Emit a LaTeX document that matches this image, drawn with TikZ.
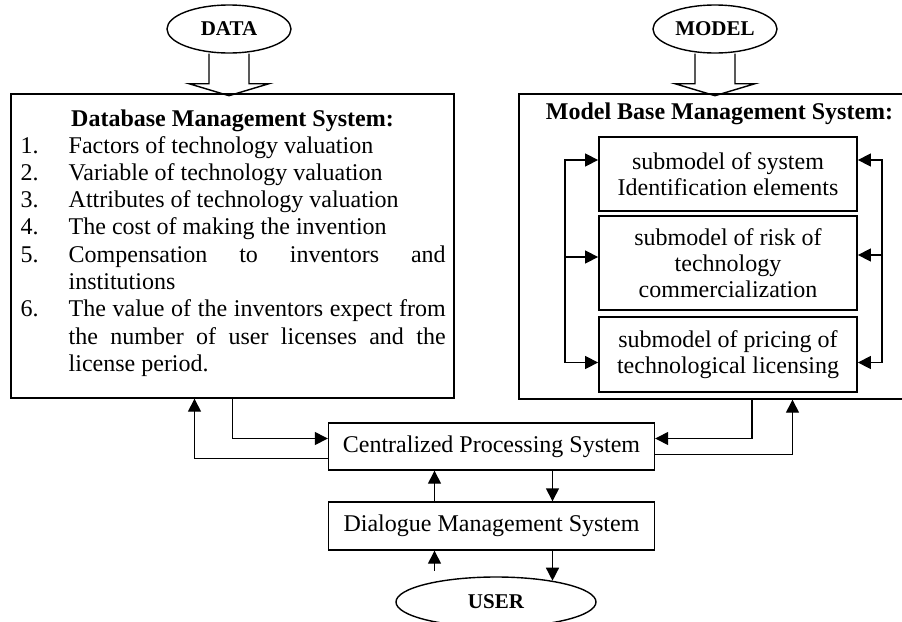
\documentclass[tikz,border=0pt]{standalone}
\usepackage{fontspec}
\setmainfont{Liberation Serif}
\usetikzlibrary{arrows.meta,shapes.geometric}
\newcommand\listno[1]{\hangindent=24pt\hangafter=1\noindent\makebox[24pt][l]{#1}}
\begin{document}
\begin{tikzpicture}[x=0.5pt,y=-0.5pt,line width=0.7pt,>={Triangle[length=6.5pt,width=6.5pt]},
        txt/.style={font=\fontsize{12}{13.65}\selectfont},
        head/.style={font=\fontsize{12}{13.65}\selectfont\bfseries,anchor=base,inner sep=0pt},
        oval/.style={draw,ellipse,inner sep=0pt,minimum width=62pt,minimum height=24pt,font=\fontsize{10.5}{12}\selectfont\bfseries},
        sub/.style={draw,line width=0.9pt,minimum width=129pt,align=center,font=\fontsize{12}{13}\selectfont}]
    \useasboundingbox(0,0)rectangle(902,622);
    \node[oval](data)at(229,29){DATA};
    \node[oval](model)at(715,29){MODEL};
    \node[draw,minimum width=221.5pt,minimum height=152pt](dbms)at(232.5,246){};
    \node[draw,minimum width=195.5pt,minimum height=152.5pt](mbms)at(714.5,246.5){};
    \foreach \a in {data,model}
        \draw([xshift=-10pt]\a.south)--++(0,30)--++(-20,0)--++(40,12)--++(40,-12)--++(-20,0)--([xshift=10pt]\a.south);
    \node[head](dbmshead)at(232.5,126){Database Management System:};
    \node[head](mbmshead)at(719.5,119){Model Base Management System:};
    \node[txt,anchor=base west,inner sep=0pt,text width=212.5pt,align=justify](dbmslist)at(20,153){\tolerance=10000\hyphenpenalty=10000
        \listno{1.}Factors of technology valuation\par
        \listno{2.}Variable of technology valuation\par
        \listno{3.}Attributes of technology valuation\par
        \listno{4.}The cost of making the invention\par
        \listno{5.}Compensation to inventors and institutions\par
        \listno{6.}The value of the inventors expect from the number of user licenses and the license period.\par};
    \node[sub,minimum height=37pt](sub1)at(728,174){submodel of system\\Identification elements};
    \node[sub,minimum height=47pt](sub2)at(728,263){submodel of risk of\\technology\\commercialization};
    \node[sub,minimum height=37.5pt](sub3)at(728,354.5){submodel of pricing of\\technological licensing};
    \draw[->]([xshift=-16.5pt,yshift=-4pt]sub3.west)|-([yshift=7pt]sub1.west);
    \draw[->]([xshift=-16.5pt,yshift=3pt]sub2.west)--([yshift=3pt]sub2.west);
    \draw[->]([xshift=-16.5pt,yshift=-4pt]sub3.west)--([yshift=-4pt]sub3.west);
    \draw[->]([xshift=12pt,yshift=-4pt]sub3.east)|-([yshift=7pt]sub1.east);
    \draw[->]([xshift=12pt,yshift=4pt]sub2.east)--([yshift=4pt]sub2.east);
    \draw[->]([xshift=12pt,yshift=-4pt]sub3.east)--([yshift=-4pt]sub3.east);
    \node[draw,txt,minimum width=163pt,minimum height=23.5pt](cps)at(491.5,446.5){Centralized Processing System};
    \node[draw,txt,minimum width=163pt,minimum height=24pt](dms)at(491.5,526){Dialogue Management System};
    \node[oval,minimum width=100pt,minimum height=25pt](user)at(496,602){USER};
    \draw[->](dbms.south)|-([yshift=4pt]cps.west);
    \draw[->]([yshift=-6pt]cps.west)-|([xshift=-19pt]dbms.south);
    \draw[->]([xshift=18.75pt]mbms.south)|-([yshift=4pt]cps.east);
    \draw[->]([yshift=-4pt]cps.east)-|([xshift=39pt]mbms.south);
    \draw[->]([xshift=-28.5pt]dms.north)--([xshift=-28.5pt]cps.south);
    \draw[->]([xshift=30.5pt]cps.south)--([xshift=30.5pt]dms.north);
    \coordinate(uin)at([xshift=-28.5pt]dms.south);
    \coordinate(uout)at([xshift=30.5pt]dms.south);
    \draw[<-,shorten >=2.65pt](uin)--(uin|-user.north);
    \draw[->,shorten >=-2.2pt](uout)--(uout|-user.north);
\end{tikzpicture}
\end{document}
